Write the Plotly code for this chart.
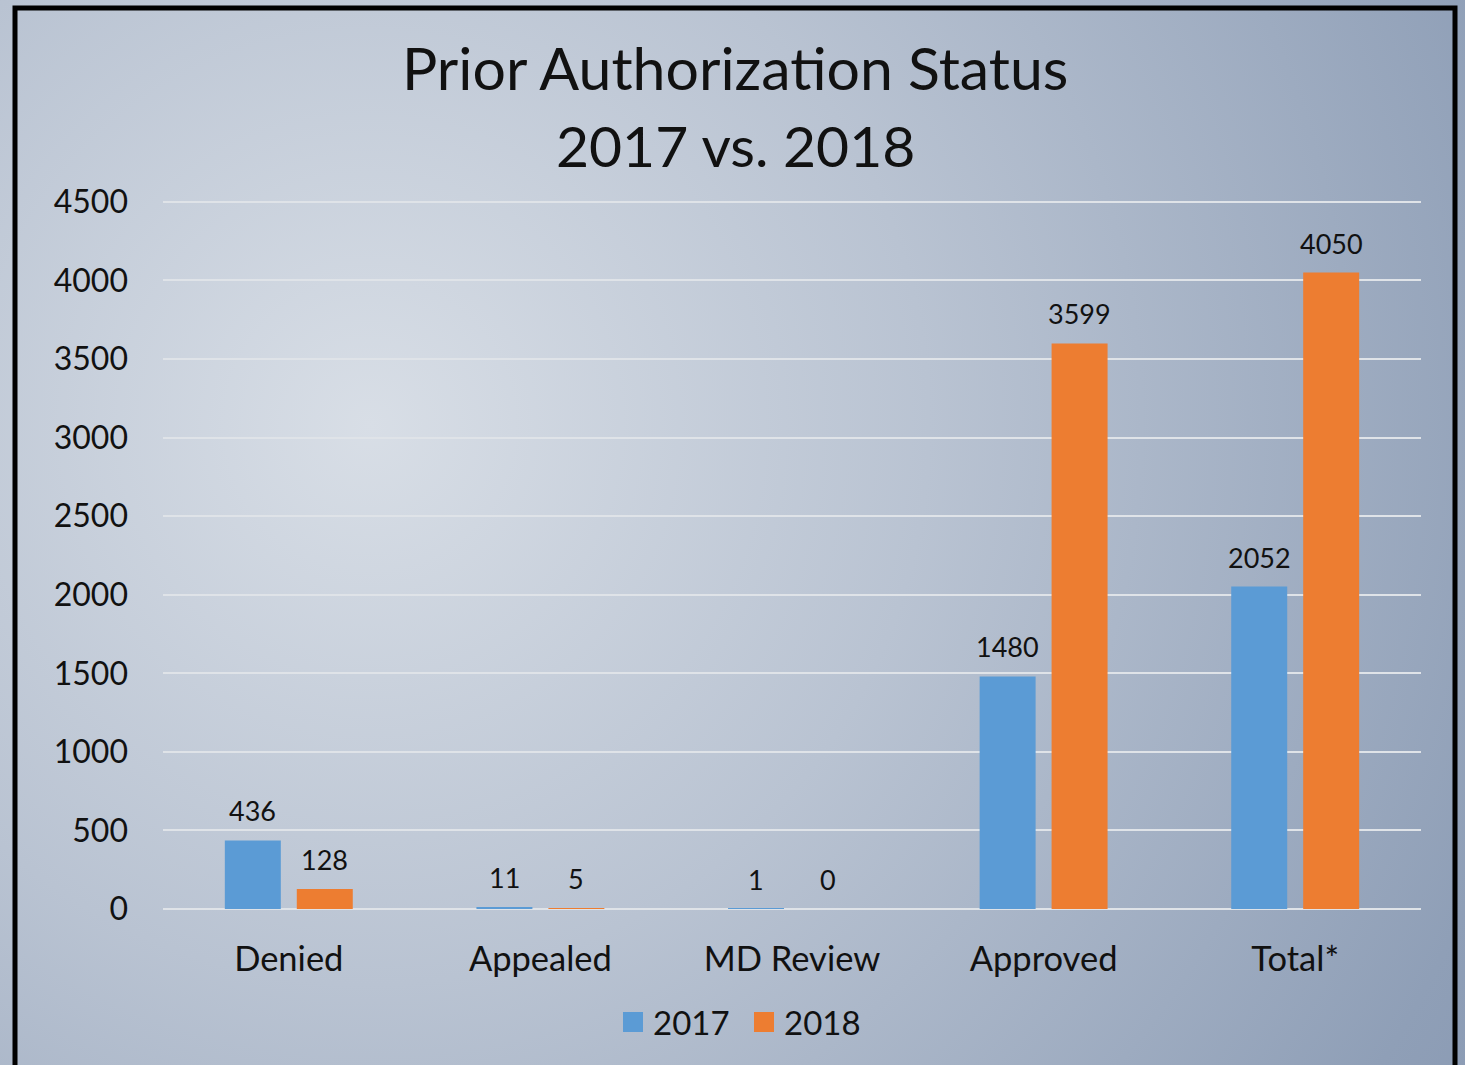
import base64
import plotly.graph_objects as go

categories = ["Denied", "Appealed", "MD Review", "Approved", "Total*"]
series_names = ["2017", "2018"]
values_2017 = [436, 11, 1, 1480, 2052]
values_2018 = [128, 5, 0, 3599, 4050]
tick_vals = [0, 500, 1000, 1500, 2000, 2500, 3000, 3500, 4000, 4500]
colors = ["#5B9BD5", "#ED7D31"]

W, H = 1465, 1065
FONT = "Lato"
L, R, T, B = 163, 1421, 200, 909
YMAX = 4512
PW, PH = R - L, B - T


def px(x):
    return (x - L) / PW


def py(y):
    return (B - y) / PH


svg = f'''<svg xmlns="http://www.w3.org/2000/svg" width="{W}" height="{H}" viewBox="0 0 {W} {H}" preserveAspectRatio="none">
<defs><radialGradient id="g" gradientUnits="userSpaceOnUse" cx="370" cy="425" r="1300">
<stop offset="0" stop-color="#d8dee6"/>
<stop offset="0.43" stop-color="#b9c3d2"/>
<stop offset="0.92" stop-color="#8f9fb7"/>
<stop offset="1" stop-color="#8b9bb4"/>
</radialGradient></defs>
<rect x="0" y="0" width="{W}" height="{H}" fill="url(#g)"/>
</svg>'''
bg_uri = "data:image/svg+xml;base64," + base64.b64encode(svg.encode()).decode()

fig = go.Figure()
for name, vals, col in zip(series_names, [values_2017, values_2018], colors):
    fig.add_trace(go.Bar(x=categories, y=vals, name=name, marker=dict(color=col, line=dict(width=0)),
                         showlegend=False))
for name, col in zip(series_names, colors):
    fig.add_trace(go.Scatter(x=[None], y=[None], mode="markers", name=name,
                             marker=dict(symbol="square", size=16, color=col, line=dict(color=col, width=4))))

annotations = []
for vals, shift in [(values_2017, -36), (values_2018, 36)]:
    for c, v in zip(categories, vals):
        annotations.append(dict(x=c, y=v, xref="x", yref="y", text=str(v), showarrow=False,
                                xshift=shift, yshift=11, yanchor="bottom",
                                font=dict(family=FONT, size=27, color="#111111")))
annotations.append(dict(x=px(735), y=py(67), xref="paper", yref="paper", text="Prior Authorization Status",
                        showarrow=False, xanchor="center", yanchor="middle",
                        font=dict(family=FONT, size=59, color="#111111")))
annotations.append(dict(x=px(735), y=py(145), xref="paper", yref="paper", text="2017 vs. 2018",
                        showarrow=False, xanchor="center", yanchor="middle",
                        font=dict(family=FONT, size=57, color="#111111")))

fig.update_layout(
    width=W, height=H,
    margin=dict(l=L, r=W - R, t=T, b=H - B, autoexpand=False),
    paper_bgcolor="rgba(0,0,0,0)", plot_bgcolor="rgba(0,0,0,0)",
    barmode="group", bargap=0.428, bargroupgap=0.222,
    font=dict(family=FONT, color="#111111"),
    images=[dict(source=bg_uri, xref="paper", yref="paper", x=px(0), y=py(0),
                 sizex=W / PW, sizey=H / PH, sizing="stretch", layer="below",
                 xanchor="left", yanchor="top")],
    shapes=[dict(type="rect", xref="paper", yref="paper",
                 x0=px(15), x1=px(1455), y0=py(1090), y1=py(8),
                 line=dict(color="black", width=5), fillcolor="rgba(0,0,0,0)", layer="above")],
    annotations=annotations,
    legend=dict(orientation="h", x=px(744), y=py(1022), xanchor="center", yanchor="middle",
                font=dict(family=FONT, size=33, color="#111111"), bgcolor="rgba(0,0,0,0)",
                itemwidth=30, tracegroupgap=0, entrywidth=86),
    xaxis=dict(showgrid=False, showline=False, ticks="", tickfont=dict(family=FONT, size=34.5, color="#111111"),
               ticklabelstandoff=26),
    yaxis=dict(range=[0, YMAX], tickvals=tick_vals, showgrid=True, gridcolor="#dfe3e8", gridwidth=2,
               zeroline=True, zerolinecolor="#dfe3e8", zerolinewidth=2, showline=False, ticks="",
               tickfont=dict(family=FONT, size=32, color="#111111"), ticklabelstandoff=34),
)

fig.write_html("out.html", config={"displayModeBar": False},
               post_script="document.body.style.margin='0';document.body.style.overflow='hidden';")
